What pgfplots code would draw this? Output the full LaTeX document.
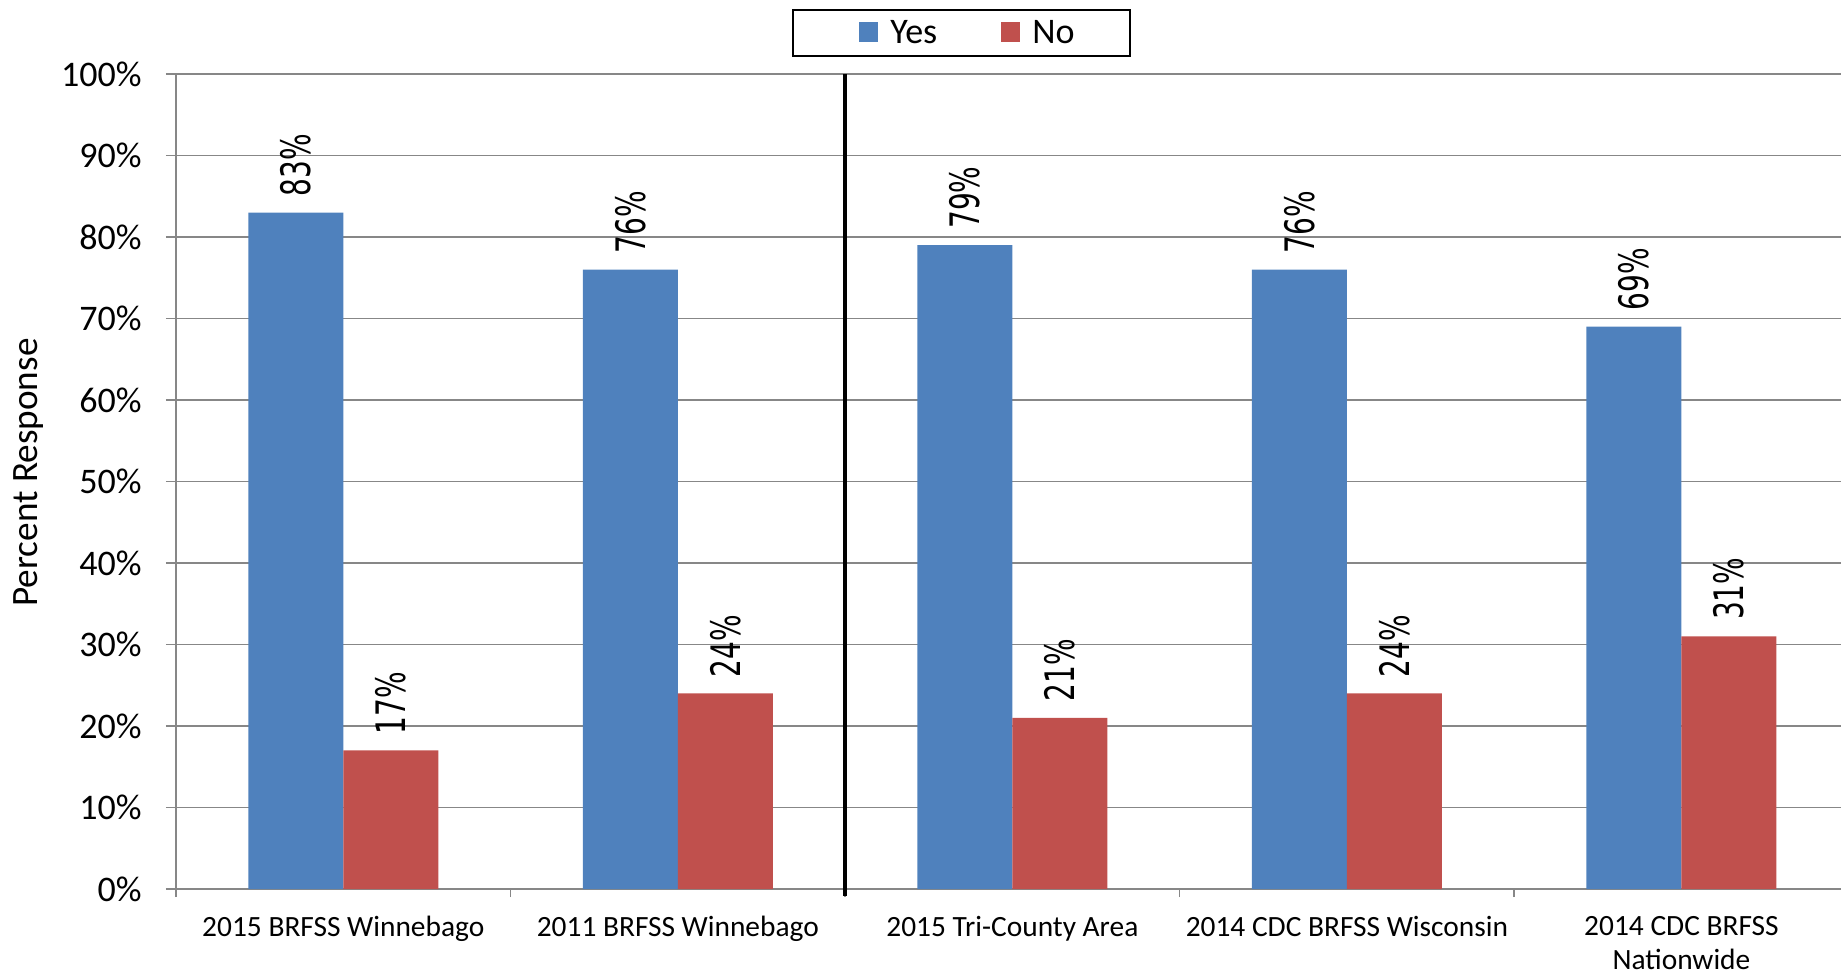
\documentclass[border=0pt]{standalone}
\usepackage{pgfplots}
\pgfplotsset{compat=1.18}
\usepackage{fontspec}
\setmainfont{Carlito}
\newfontfamily\dejavu{DejaVu Sans}
\definecolor{barblue}{HTML}{4F81BD}
\definecolor{barred}{HTML}{C0504D}
\definecolor{gridgray}{HTML}{878787}
\begin{document}
\begin{tikzpicture}
\begin{axis}[
  name=ax,
  scale only axis,
  width=832.5pt, height=407.5pt,
  xmin=-0.5, xmax=4.477,
  ymin=0, ymax=100,
  ybar=0pt, bar width=47.5pt,
  axis x line*=bottom, axis y line*=left,
  axis line style={gridgray, line width=0.75pt},
  ymajorgrids, grid style={gridgray, line width=0.75pt},
  ytick={0,10,...,100},
  yticklabel={\pgfmathprintnumber{\tick}\%},
  /pgf/number format/assume math mode=true,
  yticklabel style={font=\fontsize{18}{20}\selectfont, inner sep=0pt, xshift=-12pt},
  tick align=outside,
  major tick length=5pt, minor tick length=4pt,
  tick style={gridgray, line width=0.75pt},
  xtick={0,1,2,3,4},
  xticklabels={2015 BRFSS Winnebago, 2011 BRFSS Winnebago, 2015 Tri-County Area, 2014 CDC BRFSS Wisconsin, {2014 CDC BRFSS\\Nationwide}},
  xticklabel style={font=\fontsize{14.7}{17}\selectfont, align=center, anchor=north, inner sep=0pt, yshift=-8.5pt},
  every major x tick/.append style={draw=none},
  minor xtick={-0.5,0.5,1.5,2.5,3.5},
  ylabel={Percent Response},
  ylabel style={font=\fontsize{18.6}{20}\selectfont, at={(rel axis cs:-0.0885,0.511)}, anchor=center},
  clip=false,
  nodes near coords={\scalebox{1}[1.45]{\pgfmathprintnumber{\pgfplotspointmeta}\%}},
  nodes near coords style={rotate=90, anchor=west, font=\dejavu\fontsize{14}{16}\selectfont, inner xsep=8pt, inner ysep=0pt, text=black},
  legend columns=2,
  legend style={at={(rel axis cs:0.472,1.0502)}, anchor=center, draw=black, line width=1pt,
    font=\fontsize{18}{20}\selectfont, inner xsep=26pt, inner ysep=3pt,
    /tikz/every even column/.append style={column sep=30pt}},
]
\addplot[fill=barblue, draw=none,
  legend image code/.code={\path (-7pt,0pt); \fill[barblue] (0pt,-4.5pt) rectangle (9.5pt,5.5pt); \path (13.5pt,0pt);}]
  coordinates {(0,83) (1,76) (2,79) (3,76) (4,69)};
\addplot[fill=barred, draw=none,
  legend image code/.code={\fill[barred] (0pt,-4.5pt) rectangle (9.5pt,5.5pt); \path (13.5pt,0pt);}]
  coordinates {(0,17) (1,24) (2,21) (3,24) (4,31)};
\legend{Yes, No}
\draw[black, line width=2.4pt] (axis cs:1.5,100) -- (axis cs:1.5,-0.9);
\end{axis}
\pgfresetboundingbox
\path ([xshift=-88pt,yshift=-42.5pt]ax.south west) rectangle ([yshift=37pt]ax.north east);
\end{tikzpicture}
\end{document}
